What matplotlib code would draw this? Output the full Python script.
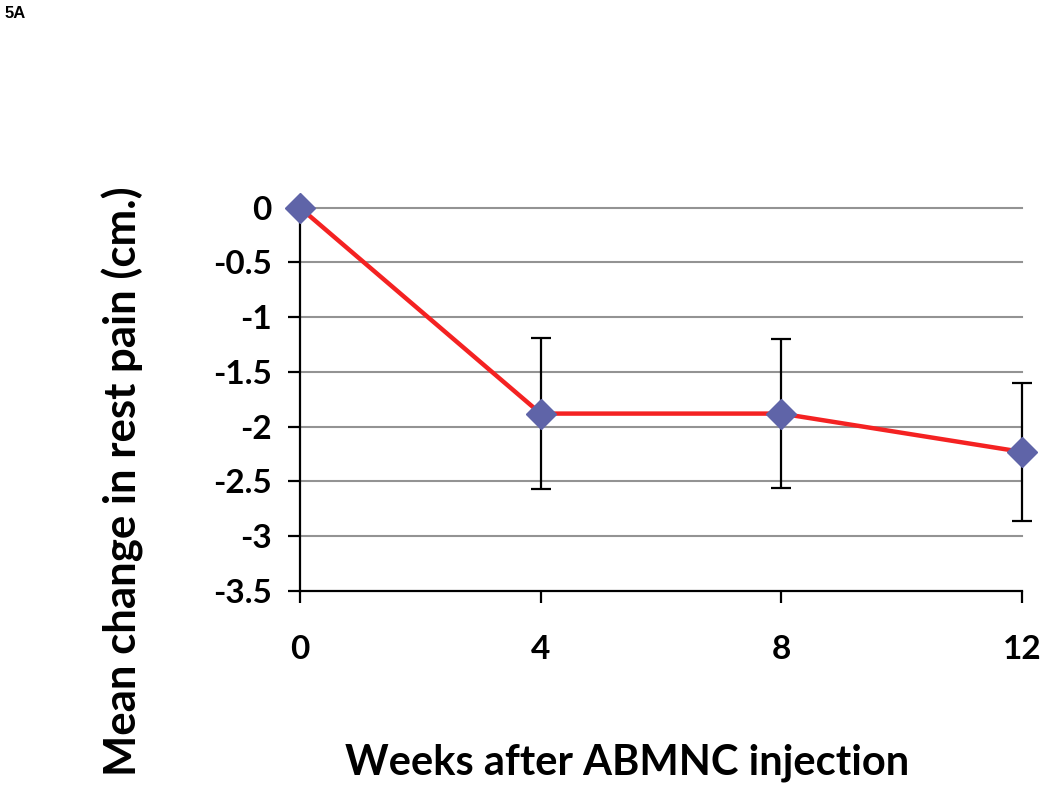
import matplotlib
matplotlib.use("Agg")
import matplotlib.pyplot as plt

weeks = [0, 4, 8, 12]
mean_change = [0.0, -1.88, -1.88, -2.23]
err = [0.0, 0.69, 0.68, 0.63]
xtick_labels = ["0", "4", "8", "12"]
yticks = [0, -0.5, -1, -1.5, -2, -2.5, -3, -3.5]
ytick_labels = ["0", "-0.5", "-1", "-1.5", "-2", "-2.5", "-3", "-3.5"]

plt.rcParams['font.family'] = ['Lato', 'DejaVu Sans']

fig = plt.figure(figsize=(10.5, 7.94), dpi=100)
ax = fig.add_axes([300/1050, 1-591/794, (1022-300)/1050, (591-207.7)/794])

eb = ax.errorbar(weeks[1:], mean_change[1:], yerr=err[1:], fmt='none', ecolor='black',
                 elinewidth=1.6, capsize=7, capthick=1.6, zorder=2)
for art in eb.lines[1] + eb.lines[2]:
    art.set_clip_on(False)
ax.plot(weeks, mean_change, color='#F42222', linewidth=3.2, zorder=3)
ax.plot(weeks, mean_change, linestyle='none', marker='D', markersize=15,
        markerfacecolor='#5F64A8', markeredgecolor='#5F64A8', zorder=4, clip_on=False)

ax.set_xlim(0, 12)
ax.set_ylim(-3.5, 0)
ax.set_xticks(weeks)
ax.set_xticklabels(xtick_labels)
ax.set_yticks(yticks)
ax.set_yticklabels(ytick_labels)
for y in yticks[:-1]:
    ax.axhline(y, color='#939393', linewidth=1.5, zorder=1, clip_on=False)

for s in ['top', 'right']:
    ax.spines[s].set_visible(False)
for s in ['left', 'bottom']:
    ax.spines[s].set_linewidth(1.6)
    ax.spines[s].set_color('black')

ax.tick_params(axis='both', direction='out', length=8.5, width=1.6, labelsize=24)
ax.tick_params(axis='x', pad=23)
ax.tick_params(axis='y', pad=12)
for lab in ax.get_xticklabels() + ax.get_yticklabels():
    lab.set_fontweight('bold')

fig.text(627.5/1050, 1-775/794, "Weeks after ABMNC injection", fontsize=30,
         fontweight='bold', ha='center', va='baseline')
fig.text(123/1050, 1-481/794, "Mean change in rest pain (cm.)", fontsize=31.5,
         fontweight='bold', ha='center', va='center', rotation=90)

fig.text(5/1050, 1-13/794, "5A", fontsize=12, fontweight='bold', family='Liberation Sans',
         va='center', ha='left')

fig.savefig("out.png", dpi=100)
